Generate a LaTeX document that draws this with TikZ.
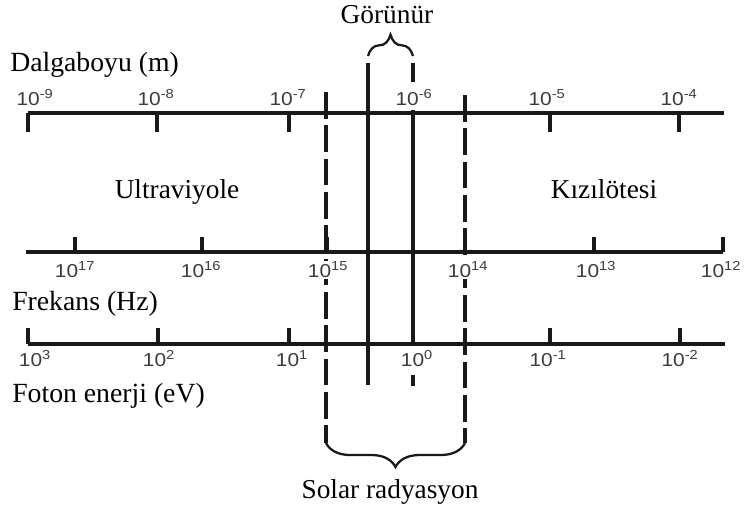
\documentclass[tikz,border=0pt]{standalone}
\usepackage{fontspec}
\setmainfont{Liberation Serif}
\newfontfamily\numfont[FakeStretch=1.12]{Liberation Sans}
\usetikzlibrary{decorations.pathreplacing}
\definecolor{inkdark}{RGB}{25,25,25}
\definecolor{numgray}{RGB}{60,60,60}

\begin{document}
\begin{tikzpicture}[x=0.75pt,y=-0.75pt,
    axisline/.style={draw=inkdark,line width=2.6pt},
    tickline/.style={draw=inkdark,line width=2.3pt},
    bandline/.style={draw=inkdark,line width=2.6pt},
    bandedge/.style={draw=inkdark,line width=2.6pt,dash pattern=on 20pt off 5pt},
    axlabel/.style={font=\fontsize{20.8}{24}\selectfont,anchor=base west,inner sep=0pt},
    regionlabel/.style={font=\fontsize{20.5}{24}\selectfont,anchor=base,inner sep=0pt},
    expo/.style={font=\numfont\fontsize{14}{16}\selectfont,text=numgray,
      fill=white,inner sep=1pt},
    bracket/.style={draw=inkdark,line width=1.7pt,decorate,
      decoration={brace,amplitude=#1}}]

  \useasboundingbox (0,0) rectangle (744,508);

  % band edges
  \draw[bandedge] (326,92) -- (326,443);
  \draw[bandedge] (465,95) -- (465,443);
  \draw[bandline] (368,63) -- (368,385);
  \draw[bandline] (413,63) -- (413,82) (413,110) -- (413,344)
    (413,375) -- (413,386);

  % wavelength axis
  \draw[axisline] (28,113) -- (724,113);
  \foreach \x/\lx/\e in {28/35/-9,157/156/-8,289/288/-7,413/414/-6,550/547/-5,679/679/-4}{
    \draw[tickline] (\x,113) -- (\x,132);
    \node[expo] (wl\e) at (\lx,98) {10\textsuperscript{\e}};
  }

  % frequency axis
  \draw[axisline] (26,252) -- (723,252);
  \foreach \x/\lx/\e in {75/75/17,202/201/16,327/328/15,465/468/14,594/596/13,723/721/12}{
    \draw[tickline] (\x,252) -- (\x,237);
    \node[expo] (fr\e) at (\lx,270) {10\textsuperscript{\e}};
  }

  % photon energy axis
  \draw[axisline] (28,344) -- (725,344);
  \foreach \x/\lx/\e in {28/35/3,158/159/2,289/292/1,413/417/0,550/548/-1,680/680/-2}{
    \draw[tickline] (\x,344) -- (\x,328);
    \node[expo] (en\e) at (\lx,359) {10\textsuperscript{\e}};
  }

  % braces
  \draw[bracket=16pt] (368,56) -- (413,56);
  \draw[bracket=18pt] (465,443) -- (326,443);

  \node[regionlabel] (visible) at (387,23) {Görünür};
  \node[regionlabel] (solar) at (390,498) {Solar radyasyon};
  \node[regionlabel] (uv) at (177,198) {Ultraviyole};
  \node[regionlabel] (ir) at (604,198) {Kızılötesi};

  \node[axlabel] (wavelen) at (10,71) {Dalgaboyu (m)};
  \node[axlabel] (freq) at (12,310) {Frekans (Hz)};
  \node[axlabel] (energy) at (12,402) {Foton enerji (eV)};
\end{tikzpicture}
\end{document}
